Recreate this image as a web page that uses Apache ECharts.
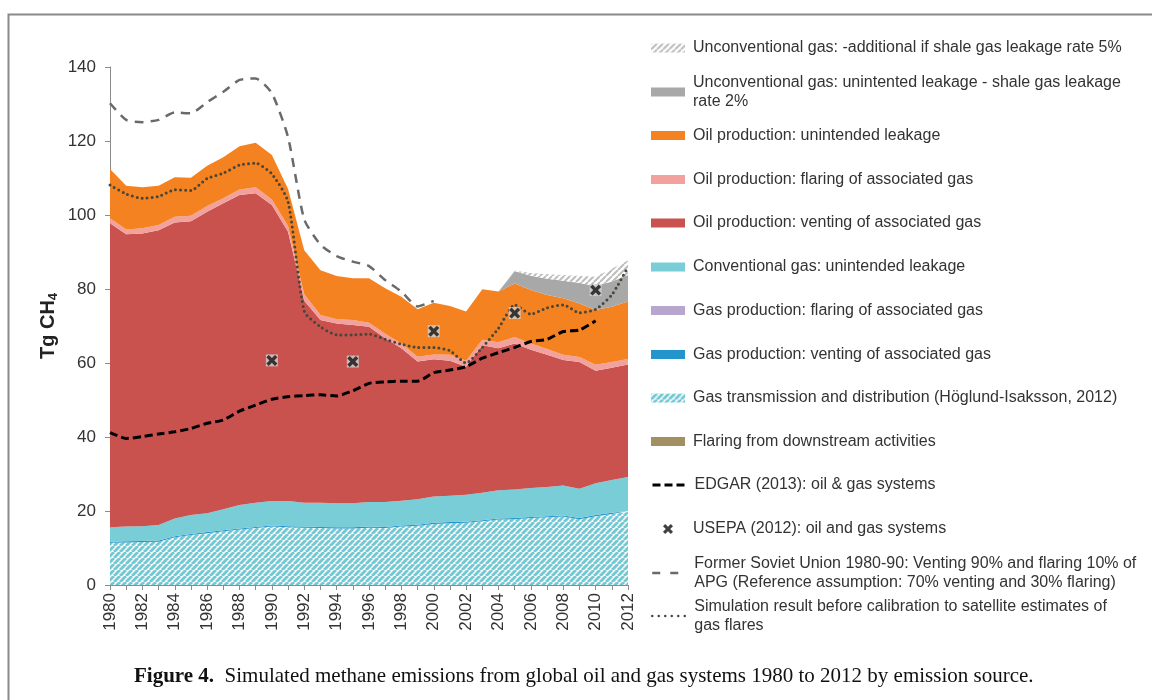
<!DOCTYPE html>
<html>
<head>
<meta charset="utf-8">
<script src="https://cdn.jsdelivr.net/npm/echarts@6/dist/echarts.min.js"></script>
<style>
html,body{margin:0;padding:0;background:#fff;}
#chart{width:1152px;height:700px;}
</style>
</head>
<body>
<div id="chart"></div>
<script>
// ---------------- DATA ----------------
const years = ['1980','1981','1982','1983','1984','1985','1986','1987','1988','1989','1990','1991','1992','1993','1994','1995','1996','1997','1998','1999','2000','2001','2002','2003','2004','2005','2006','2007','2008','2009','2010','2011','2012'];

const flaringDownstream = [0,0,0,0,0,0,0,0,0,0,0,0,0,0,0,0,0,0,0,0,0,0,0,0,0,0,0,0,0,0,0,0,0];
const gasTransmission = [11.4,11.5,11.6,11.7,12.9,13.5,14.0,14.5,15.0,15.4,15.8,15.6,15.5,15.4,15.3,15.3,15.5,15.4,15.8,16.0,16.5,16.7,16.8,17.2,17.7,17.8,18.1,18.3,18.5,17.8,18.6,19.2,19.7];
const gasVenting = [0.3,0.3,0.3,0.3,0.3,0.3,0.3,0.3,0.3,0.3,0.3,0.3,0.3,0.3,0.3,0.3,0.3,0.3,0.3,0.3,0.3,0.3,0.3,0.3,0.3,0.3,0.3,0.3,0.3,0.3,0.3,0.3,0.3];
const gasFlaring = [0,0,0,0,0,0,0,0,0,0,0,0,0,0,0,0,0,0,0,0,0,0,0,0,0,0,0,0,0,0,0,0,0];
const convGasLeakage = [3.9,4.0,4.0,4.2,4.8,5.1,5.1,5.7,6.3,6.5,6.6,6.8,6.4,6.5,6.5,6.5,6.6,6.7,6.7,6.9,7.1,7.1,7.3,7.4,7.6,7.7,7.8,7.9,8.1,7.9,8.6,8.9,9.2];
const oilVenting = [82.2,79.0,79.1,79.7,80.0,79.4,81.5,82.7,83.8,83.7,80.0,72.8,54.6,49.4,48.6,48.2,47.4,44.3,41.2,37.2,37.1,36.5,34.6,39.9,38.4,39.5,37.4,35.7,33.9,34.3,30.4,30.3,30.4];
const oilFlaring = [1.3,1.3,1.4,1.4,1.5,1.5,1.5,1.3,1.5,1.6,1.5,1.5,1.8,1.4,1.1,1.3,1.1,1.2,1.3,1.3,1.3,1.6,1.6,1.5,1.6,1.7,1.7,1.6,1.4,1.3,1.6,1.6,1.5];
const oilLeakage = [13.3,11.8,11.1,10.6,10.7,10.3,10.9,11.1,11.7,12.0,12.0,10.0,11.9,12.1,11.7,11.3,12.0,12.3,12.6,12.8,14.0,13.2,13.3,13.6,13.7,14.5,14.4,14.6,15.3,14.5,14.8,14.9,15.5];
const unconv2 = [0,0,0,0,0,0,0,0,0,0,0,0,0,0,0,0,0,0,0,0,0,0,0,0,0,3.3,3.9,4.4,4.7,5.5,6.5,6.8,7.2];
const unconv5extra = [0,0,0,0,0,0,0,0,0,0,0,0,0,0,0,0,0,0,0,0,0,0,0,0,0,0.1,0.7,1.2,1.6,2.0,2.5,3.5,3.9];

const edgar = [41.2,39.6,40.1,40.8,41.4,42.3,43.7,44.6,47.0,48.6,50.2,50.9,51.2,51.4,51.1,52.5,54.5,54.9,55.1,55.1,57.4,58.1,59.0,61.3,62.8,64.2,65.8,66.4,68.5,68.9,71.4,null,null];
const fsu = [130.2,125.7,125.1,125.7,127.7,127.5,130.5,133.3,136.5,136.9,132.9,121.0,98.8,92.0,88.9,87.4,86.2,82.4,79.3,75.3,76.8,null,null,null,null,null,null,null,null,null,null,null,null];
const simulation = [108.1,105.7,104.5,105.0,106.8,106.6,109.9,111.3,113.5,114.0,111.1,103.6,74.0,69.8,67.6,67.6,67.8,66.4,65.1,64.2,64.2,63.3,60.0,64.2,69.4,75.7,73.2,74.9,75.7,73.6,74.5,78.4,86.0];

const usepaYears = ['1990','1995','2000','2005','2010'];
const usepaValues = [60.7,60.4,68.6,73.5,79.7];

const yTicks = [0,20,40,60,80,100,120,140];

// ---------------- NAMES ----------------
const N = {
  u5: 'Unconventional gas: -additional if shale gas leakage rate 5%',
  u2: 'Unconventional gas: unintented leakage - shale gas leakage rate 2%',
  oilLeak: 'Oil production: unintended leakage',
  oilFlare: 'Oil production: flaring of associated gas',
  oilVent: 'Oil production: venting of associated gas',
  conv: 'Conventional gas: unintended leakage',
  gasFlare: 'Gas production: flaring of associated gas',
  gasVent: 'Gas production: venting of associated gas',
  trans: 'Gas transmission and distribution (Höglund-Isaksson, 2012)',
  down: 'Flaring from downstream activities',
  edgar: 'EDGAR (2013): oil & gas systems',
  usepa: 'USEPA (2012): oil and gas systems',
  fsu: 'Former Soviet Union 1980-90: Venting 90% and flaring 10% of APG (Reference assumption: 70% venting and 30% flaring)',
  sim: 'Simulation result before calibration to satellite estimates of gas flares'
};
const displayName = {};
displayName[N.u2] = 'Unconventional gas: unintented leakage - shale gas leakage\nrate 2%';
displayName[N.fsu] = 'Former Soviet Union 1980-90: Venting 90% and flaring 10% of\nAPG (Reference assumption: 70% venting and 30% flaring)';
displayName[N.sim] = 'Simulation result before calibration to satellite estimates of\ngas flares';

// ---------------- PATTERNS ----------------
function hatch(fg, bg, s, lw) {
  const c = document.createElement('canvas');
  c.width = s; c.height = s;
  const ctx = c.getContext('2d');
  ctx.fillStyle = bg; ctx.fillRect(0, 0, s, s);
  ctx.strokeStyle = fg; ctx.lineWidth = lw;
  ctx.beginPath();
  for (let k = -1; k <= 1; k++) { ctx.moveTo(k * s, s); ctx.lineTo(k * s + s, 0); }
  ctx.stroke();
  return { image: c, repeat: 'repeat' };
}
const cyanHatch = hatch('#72C9D4', '#ffffff', 6, 3.0);
const grayHatch = hatch('#BDBDBD', '#ffffff', 6, 2.0);

function area(name, data, color) {
  return {
    name: name, type: 'line', stack: 'total', data: data,
    symbol: 'none', showSymbol: false, smooth: false,
    lineStyle: { width: 0 },
    itemStyle: { color: color },
    areaStyle: { color: color, opacity: 1 },
    emphasis: { disabled: true },
    z: 2
  };
}

const xPath = 'path://M2.2,0 L5,2.8 L7.8,0 L10,2.2 L7.2,5 L10,7.8 L7.8,10 L5,7.2 L2.2,10 L0,7.8 L2.8,5 L0,2.2 Z';
// legend icon: same X, centred in a 34-wide box (degenerate end points fix the box width)
const xLegendPath = 'path://M0,5 L0.01,5 L0,5 Z M34,5 L33.99,5 L34,5 Z M14.2,0 L17,2.8 L19.8,0 L22,2.2 L19.2,5 L22,7.8 L19.8,10 L17,7.2 L14.2,10 L12,7.8 L14.8,5 L12,2.2 Z';

const series = [
  area(N.down, flaringDownstream, '#A29063'),
  area(N.trans, gasTransmission, cyanHatch),
  area(N.gasVent, gasVenting, '#2394CC'),
  area(N.gasFlare, gasFlaring, '#B7A6CE'),
  area(N.conv, convGasLeakage, '#79CDD7'),
  area(N.oilVent, oilVenting, '#C9524F'),
  area(N.oilFlare, oilFlaring, '#F3A19C'),
  area(N.oilLeak, oilLeakage, '#F48220'),
  area(N.u2, unconv2, '#A8A8A8'),
  area(N.u5, unconv5extra, grayHatch),
  {
    name: N.edgar, type: 'line', data: edgar, symbol: 'none', smooth: 0.2,
    lineStyle: { color: '#000000', width: 3, type: [8, 4] },
    itemStyle: { color: '#000000' }, z: 5
  },
  {
    name: N.fsu, type: 'line', data: fsu, symbol: 'none', smooth: 0.2,
    lineStyle: { color: '#6a6a6a', width: 2.5, type: [9, 7] },
    itemStyle: { color: '#6a6a6a' }, z: 5
  },
  {
    name: N.sim, type: 'line', data: simulation, symbol: 'none', smooth: 0.2,
    lineStyle: { color: '#46463a', width: 3, type: [0, 5], cap: 'round' },
    itemStyle: { color: '#46463a' }, z: 5
  },
  {
    name: 'usepa-bg', type: 'scatter', symbol: 'rect', symbolSize: 12,
    data: usepaYears.map((y, i) => [y, usepaValues[i]]),
    itemStyle: { color: '#d0d0d0' }, z: 6, silent: true
  },
  {
    name: N.usepa, type: 'scatter', symbolKeepAspect: true,
    symbol: xPath, symbolSize: 11,
    data: usepaYears.map((y, i) => [y, usepaValues[i]]),
    itemStyle: { color: '#111111' }, z: 7
  }
];

// ---------------- LEGENDS ----------------
const legendSpec = [
  [N.u5, 48, 1, 'rect'],
  [N.u2, 92, 2, 'rect'],
  [N.oilLeak, 135.5, 1, 'rect'],
  [N.oilFlare, 179.5, 1, 'rect'],
  [N.oilVent, 223, 1, 'rect'],
  [N.conv, 267, 1, 'rect'],
  [N.gasFlare, 310.5, 1, 'rect'],
  [N.gasVent, 354.5, 1, 'rect'],
  [N.trans, 398, 1, 'rect'],
  [N.down, 441.5, 1, 'rect'],
  [N.edgar, 485, 1, 'line'],
  [N.usepa, 529, 1, 'x'],
  [N.fsu, 573, 2, 'line'],
  [N.sim, 616, 2, 'line']
];
const legendLineStyles = {};
legendLineStyles[N.edgar] = { color: '#000', width: 3, type: [8, 4] };
legendLineStyles[N.fsu] = { color: '#6a6a6a', width: 2.5, type: [8, 10] };
legendLineStyles[N.sim] = { color: '#46463a', width: 2.5, type: [0, 6.5], cap: 'round' };

const legends = legendSpec.map(([name, cy, lines, kind]) => {
  const lg = {
    data: [name], left: 651, top: lines === 2 ? cy - 28.5 : cy - 9.5,
    orient: 'vertical', padding: 0, itemWidth: 34, itemHeight: 9,
    formatter: (n) => displayName[n] || n,
    textStyle: {
      fontSize: 16, color: '#333', lineHeight: 19,
      fontFamily: 'Liberation Sans, Arial, sans-serif',
      padding: lines === 2 ? [19, 0, 0, 3] : [0, 0, 0, 3]
    }
  };
  if (kind === 'rect') lg.icon = 'rect';
  if (kind === 'line') {
    lg.itemStyle = { color: 'rgba(0,0,0,0)', borderColor: 'rgba(0,0,0,0)', borderWidth: 0 };
    lg.lineStyle = legendLineStyles[name];
  }
  if (kind === 'x') { lg.itemHeight = 12; lg.icon = xLegendPath; }
  return lg;
});

// ---------------- CHART ----------------
const chart = echarts.init(document.getElementById('chart'), null, { renderer: 'canvas' });
chart.setOption({
  animation: false,
  backgroundColor: '#ffffff',
  textStyle: { fontFamily: 'Liberation Sans, Arial, sans-serif' },
  title: {
    left: 134, top: 666, padding: 0,
    text: '{b|Figure 4.}  Simulated methane emissions from global oil and gas systems 1980 to 2012 by emission source.',
    textStyle: {
      fontFamily: 'Liberation Serif, Times New Roman, serif', fontSize: 21, fontWeight: 'normal', color: '#111',
      rich: { b: { fontFamily: 'Liberation Serif, Times New Roman, serif', fontSize: 21, fontWeight: 'bold', color: '#111' } }
    }
  },
  legend: legends,
  grid: { left: 110, right: 524, top: 67, bottom: 115, containLabel: false },
  xAxis: {
    type: 'category', data: years, boundaryGap: false,
    axisLine: { show: true, lineStyle: { color: '#8c8c8c', width: 1 } },
    axisTick: { show: true, interval: 0, length: 5, lineStyle: { color: '#8c8c8c' } },
    axisLabel: { interval: 1, rotate: 90, fontSize: 17, color: '#333', margin: 8 },
    splitLine: { show: false }
  },
  yAxis: {
    type: 'value', min: yTicks[0], max: yTicks[yTicks.length - 1], interval: 20,
    name: '{a|Tg CH}{s|4}', nameLocation: 'middle', nameGap: 50, nameRotate: 90,
    nameTextStyle: {
      rich: {
        a: { fontSize: 20, fontWeight: 'bold', color: '#222', lineHeight: 24 },
        s: { fontSize: 13, fontWeight: 'bold', color: '#222', verticalAlign: 'bottom', lineHeight: 14, padding: [6, 0, 0, 0] }
      }
    },
    axisLine: { show: true, lineStyle: { color: '#8c8c8c', width: 1 } },
    axisTick: { show: true, length: 5, lineStyle: { color: '#8c8c8c' } },
    axisLabel: { fontSize: 17, color: '#333', margin: 14 },
    splitLine: { show: false }
  },
  graphic: [{
    type: 'polyline', silent: true,
    shape: { points: [[8.5, 700], [8.5, 14.5], [1152, 14.5]] },
    style: { stroke: '#8a8a8a', lineWidth: 2, fill: null }
  }],
  series: series
});
</script>
</body>
</html>
